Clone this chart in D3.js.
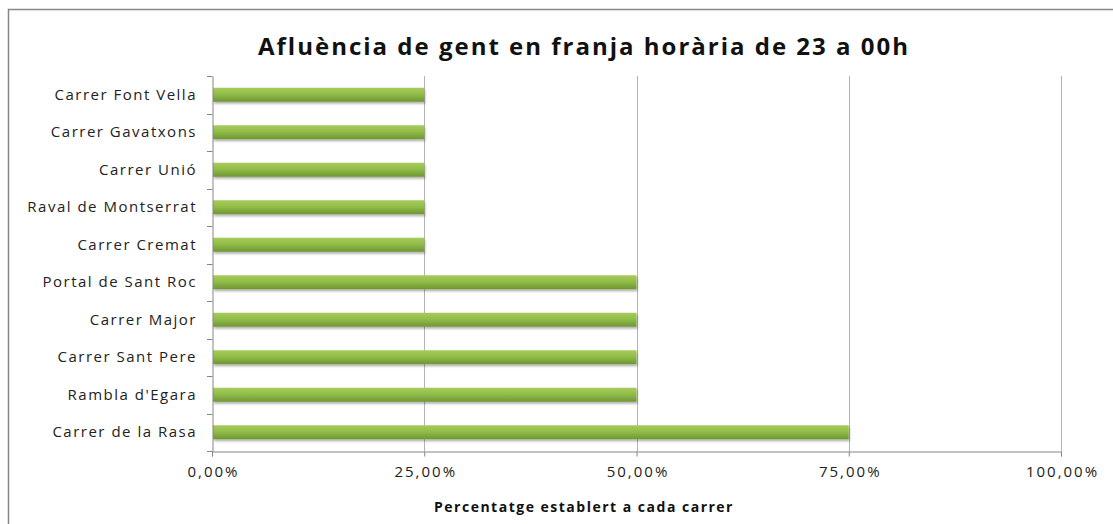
<!DOCTYPE html>
<html>
<head>
<meta charset="utf-8">
<script src="https://cdn.jsdelivr.net/npm/d3@7"></script>
<style>
  body { margin: 0; background: #fff; }
  svg { font-family: "Open Sans", sans-serif; }
</style>
</head>
<body>
<svg id="chart" width="1113" height="524"></svg>
<script>
// data
var streets = ["Carrer Font Vella", "Carrer Gavatxons", "Carrer Unió", "Raval de Montserrat",
  "Carrer Cremat", "Portal de Sant Roc", "Carrer Major", "Carrer Sant Pere",
  "Rambla d'Egara", "Carrer de la Rasa"];
var percents = [25, 25, 25, 25, 25, 50, 50, 50, 50, 75];
var xTicks = [0, 25, 50, 75, 100];

var svg = d3.select("#chart"),
    margin = {top: 76, right: 52, bottom: 73, left: 212},
    width = 1113 - margin.left - margin.right,
    height = 524 - margin.top - margin.bottom;

// chart border
svg.append("rect")
    .attr("x", 8.5).attr("y", 9.5)
    .attr("width", 1120).attr("height", 530)
    .attr("fill", "#fff")
    .attr("stroke", "#868686")
    .attr("stroke-width", 1.5);

var defs = svg.append("defs");
var grad = defs.append("linearGradient")
    .attr("id", "barGrad")
    .attr("x1", 0).attr("y1", 0).attr("x2", 0).attr("y2", 1);
grad.append("stop").attr("offset", "0%").attr("stop-color", "#a6cc5c");
grad.append("stop").attr("offset", "45%").attr("stop-color", "#92bd48");
grad.append("stop").attr("offset", "100%").attr("stop-color", "#6f9635");

var shadow = defs.append("filter").attr("id", "shadow")
    .attr("x", "-5%").attr("y", "-50%").attr("width", "110%").attr("height", "220%");
shadow.append("feDropShadow")
    .attr("dx", 1).attr("dy", 2).attr("stdDeviation", 1.2)
    .attr("flood-color", "#000").attr("flood-opacity", 0.3);

var g = svg.append("g").attr("transform", "translate(" + margin.left + "," + margin.top + ")");

var x = d3.scaleLinear().domain([0, 100]).range([0, width]);
var y = d3.scaleBand().domain(streets).range([0, height]);

// gridlines
g.selectAll(".grid")
    .data(xTicks.slice(1))
    .enter().append("line")
      .attr("class", "grid")
      .attr("x1", function(d) { return Math.round(x(d)) + 0.5; })
      .attr("x2", function(d) { return Math.round(x(d)) + 0.5; })
      .attr("y1", 0).attr("y2", height)
      .attr("stroke", "#b3b3b3");

// bars
var barH = 14;
g.selectAll(".bar")
    .data(percents)
    .enter().append("rect")
      .attr("class", "bar")
      .attr("x", 1)
      .attr("y", function(d, i) { return y(streets[i]) + y.bandwidth() / 2 - barH / 2; })
      .attr("width", function(d) { return x(d) - 1; })
      .attr("height", barH)
      .attr("fill", "url(#barGrad)")
      .attr("filter", "url(#shadow)");

// x axis
var xAxis = g.append("g")
    .attr("transform", "translate(0," + (height + 0.5) + ")")
    .call(d3.axisBottom(x).tickValues(xTicks).tickSize(5).tickPadding(10)
      .tickFormat(function(d) { return d3.format(".2f")(d).replace(".", ",") + "%"; }));
xAxis.select(".domain").attr("stroke", "#868686");
xAxis.selectAll(".tick line").attr("stroke", "#868686");
xAxis.selectAll("text").attr("font-size", 15).attr("fill", "#222")
    .attr("font-family", "'Open Sans', sans-serif")
    .attr("letter-spacing", "2px")
    .attr("dx", 1);

// y axis
var yAxis = g.append("g")
    .attr("transform", "translate(0.5,0)")
    .call(d3.axisLeft(y).tickSize(0).tickPadding(15.5));
yAxis.select(".domain").attr("stroke", "#868686");
yAxis.selectAll("text").attr("font-size", 15).attr("fill", "#222")
    .attr("font-family", "'Open Sans', sans-serif")
    .attr("letter-spacing", "1.5px");

// category boundary ticks
g.selectAll(".ytick")
    .data(d3.range(streets.length + 1))
    .enter().append("line")
      .attr("class", "ytick")
      .attr("x1", -5).attr("x2", 0.5)
      .attr("y1", function(i) { return Math.round(i * y.step()) + 0.5; })
      .attr("y2", function(i) { return Math.round(i * y.step()) + 0.5; })
      .attr("stroke", "#868686");

// title
svg.append("text")
    .attr("x", 584).attr("y", 55)
    .attr("text-anchor", "middle")
    .attr("font-size", 24)
    .attr("font-weight", "bold")
    .attr("letter-spacing", "2px")
    .attr("fill", "#111")
    .text("Afluència de gent en franja horària de 23 a 00h");

// axis title
svg.append("text")
    .attr("x", 584).attr("y", 512)
    .attr("text-anchor", "middle")
    .attr("font-size", 14)
    .attr("font-weight", "bold")
    .attr("letter-spacing", "1.5px")
    .attr("fill", "#111")
    .text("Percentatge establert a cada carrer");
</script>
</body>
</html>
